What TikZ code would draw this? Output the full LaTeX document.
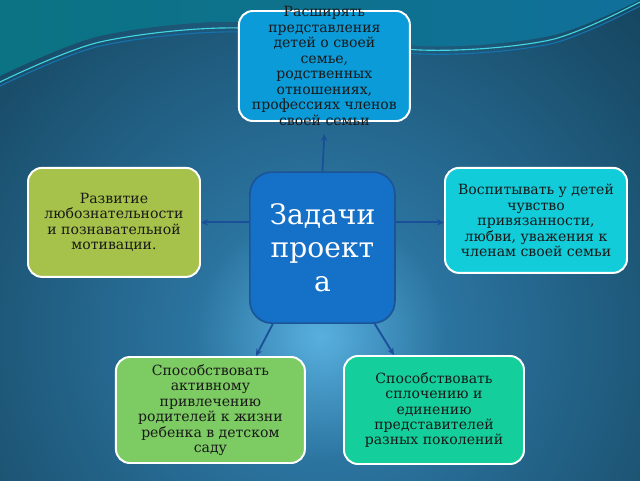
\documentclass[tikz,border=0pt]{standalone}
\usepackage{fontspec}
\setmainfont{DejaVu Serif}
\usetikzlibrary{arrows.meta}
\definecolor{bgedge}{HTML}{0A2B3C}
\definecolor{bgdark}{HTML}{184B67}
\definecolor{bgmid}{HTML}{2B74A0}
\definecolor{bgcore}{HTML}{58B0DF}
\definecolor{bandl}{HTML}{0B7383}
\definecolor{bandr}{HTML}{11709A}
\definecolor{famblue}{HTML}{0A9BD8}
\definecolor{lftgreen}{HTML}{A6C24A}
\definecolor{rgtcyan}{HTML}{12CCD9}
\definecolor{blgreen}{HTML}{7DCB63}
\definecolor{brgreen}{HTML}{14CF9B}
\definecolor{coreblue}{HTML}{1570C8}
\definecolor{coreedge}{HTML}{1B5597}
\definecolor{linkblue}{HTML}{1A4F9A}
\pgfdeclareradialshading{bgglow}{\pgfpoint{0bp}{0bp}}{color(0bp)=(bgcore); color(6bp)=(bgmid); color(20bp)=(bgdark); color(34bp)=(bgedge); color(50bp)=(bgedge)}
\tikzset{
  task/.style={draw=white, line width=1.4pt, rounded corners=0.35cm, align=center,
    text=black!90, font=\fontsize{10}{11}\selectfont, inner sep=2pt},
  tasktext/.style={align=center, text=black!90, font=\fontsize{10}{11}\selectfont},
  core/.style={draw=coreedge, line width=1.2pt, fill=coreblue, rounded corners=0.55cm,
    align=center, text=white, font=\fontsize{20}{24}\selectfont},
  link/.style={draw=linkblue, line width=1.3pt, -{Stealth[length=5pt,width=4.5pt]}}
}
\begin{document}
\begin{tikzpicture}
\useasboundingbox (0,0) rectangle (16,12);
% background
\begin{scope}
\clip (0,0) rectangle (16,12);
\shade[shading=bgglow] (8,3.6) circle (13);
\shade[left color=bandl, right color=bandr] plot[smooth] coordinates {(0,10.1) (2.5,11.1) (6,11.45) (10.5,10.85) (13.75,11.1) (16,12)} -- (16,12) -- (0,12) -- cycle;
\draw[line width=0.8pt, rgtcyan!80!white] plot[smooth] coordinates {(0,9.95) (2.5,10.95) (6,11.3) (10.5,10.75) (13.75,11.0) (16,11.95)};
\draw[line width=0.8pt, linkblue!80!cyan] plot[smooth] coordinates {(0,9.85) (2.5,10.85) (6,11.2) (10.5,10.65) (13.75,10.9) (16,11.85)};
\end{scope}
% boxes
\node[task, fill=famblue, minimum width=4.275cm, minimum height=2.75cm] (fam) at (8.11,10.35) {};
\node[tasktext] at (fam) {Расширять\\представления\\детей о своей\\семье,\\родственных\\отношениях,\\профессиях членов\\своей семьи};
\node[task, fill=lftgreen, minimum width=4.3cm, minimum height=2.725cm] (lft) at (2.85,6.44) {Развитие\\любознательности\\и познавательной\\мотивации.};
\node[task, fill=rgtcyan, minimum width=4.55cm, minimum height=2.625cm] (rgt) at (13.4,6.49) {Воспитывать у детей\\чувство\\привязанности,\\любви, уважения к\\членам своей семьи};
\node[task, fill=blgreen, minimum width=4.725cm, minimum height=2.65cm] (bl) at (5.26,1.75) {Способствовать\\активному\\привлечению\\родителей к жизни\\ребенка в детском\\саду};
\node[task, fill=brgreen, minimum width=4.5cm, minimum height=2.7cm] (br) at (10.85,1.75) {Способствовать\\сплочению и\\единению\\представителей\\разных поколений};
\node[core, minimum width=3.625cm, minimum height=3.775cm] (cen) at (8.06,5.81) {Задачи\\проект\\а};
% arrows
\draw[link] (cen.north) -- ([yshift=-0.3cm]fam.south);
\draw[link] (cen.west |- lft) -- (lft.east);
\draw[link] (cen.east |- lft) -- (rgt.west |- lft);
\draw[link] ([xshift=-1.24cm]cen.south) -- ([xshift=1.14cm]bl.north);
\draw[link] ([xshift=1.31cm]cen.south) -- ([xshift=-1cm]br.north);
\end{tikzpicture}
\end{document}
